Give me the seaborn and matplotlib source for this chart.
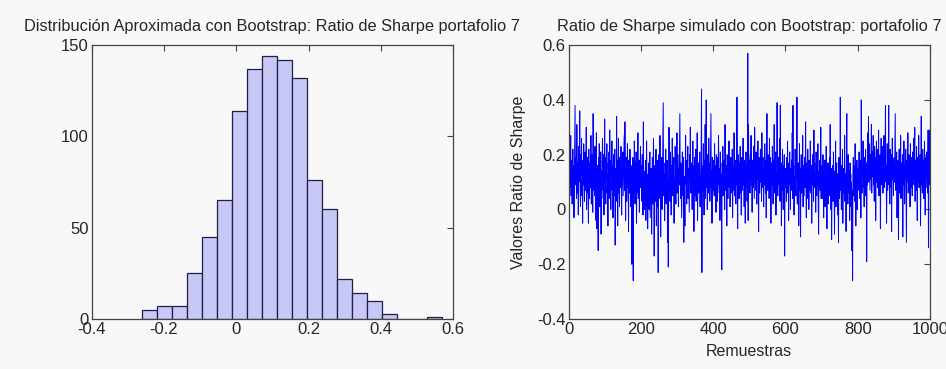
import numpy as np
import pandas as pd
import seaborn as sns
import matplotlib
matplotlib.use('Agg')
import matplotlib.pyplot as plt

# histograma (20 clases)
hist_centros = [-0.241, -0.199, -0.158, -0.116, -0.075, -0.033, 0.009, 0.050, 0.092, 0.133,
                0.175, 0.217, 0.258, 0.300, 0.341, 0.383, 0.425, 0.466, 0.508, 0.549]
hist_conteos = [5, 7, 7, 25, 45, 65, 114, 137, 144, 142,
                132, 76, 60, 22, 14, 10, 3, 0, 0, 1]

# ratio de Sharpe por remuestra, leido a ojo (bloques de 100)
bloque_0 = [0.12, 0.29, 0.08, 0.21, 0.15, 0.27, 0.05, 0.18, 0.10, 0.02,
            0.14, 0.22, 0.07, 0.16, -0.03, 0.11, 0.25, 0.38, 0.09, 0.13,
            0.19, 0.04, 0.31, 0.12, 0.06, 0.17, -0.02, 0.23, 0.10, 0.15,
            0.36, 0.08, 0.01, 0.20, 0.13, 0.26, 0.05, 0.11, -0.05, 0.18,
            0.09, 0.24, 0.14, 0.03, 0.16, 0.21, 0.07, 0.12, 0.30, 0.00,
            0.10, 0.19, 0.06, 0.15, -0.05, 0.22, 0.11, 0.04, 0.17, 0.08,
            0.13, 0.27, 0.02, 0.09, 0.20, 0.14, -0.01, 0.35, 0.07, 0.12,
            0.18, 0.05, 0.23, 0.10, 0.15, -0.04, 0.28, -0.07, 0.11, 0.16,
            0.06, -0.15, 0.19, 0.09, 0.24, 0.01, 0.13, 0.08, 0.21, -0.09,
            0.14, 0.04, 0.17, 0.26, 0.10, 0.07, 0.20, -0.02, 0.12, 0.33]
bloque_1 = [0.08, 0.15, 0.02, 0.19, 0.11, 0.24, 0.06, 0.13, -0.06, 0.17,
            0.10, 0.21, 0.04, 0.29, 0.09, 0.14, 0.00, 0.18, 0.12, 0.25,
            0.07, 0.16, -0.03, 0.11, 0.20, 0.05, 0.13, 0.22, -0.13, 0.09,
            0.15, 0.03, 0.34, 0.10, 0.18, -0.06, 0.12, 0.26, 0.06, 0.14,
            0.01, 0.19, 0.11, 0.08, 0.23, 0.13, -0.02, 0.16, 0.09, 0.21,
            0.05, 0.12, 0.17, 0.27, 0.07, 0.32, 0.10, -0.04, 0.15, 0.19,
            0.03, 0.11, 0.24, 0.08, 0.14, -0.08, 0.18, 0.12, 0.06, 0.22,
            0.10, 0.01, 0.16, 0.09, -0.20, 0.13, 0.05, 0.19, -0.26, 0.11,
            0.07, 0.25, 0.14, 0.02, 0.17, 0.09, 0.21, -0.05, 0.12, 0.06,
            0.15, 0.28, 0.04, 0.10, 0.18, -0.01, 0.13, 0.08, 0.23, 0.11]
bloque_2 = [0.09, 0.16, 0.03, 0.20, 0.11, -0.02, 0.32, 0.07, 0.14, 0.00,
            0.12, 0.05, 0.18, -0.04, 0.08, 0.25, 0.01, 0.10, -0.07, 0.13,
            0.04, 0.17, 0.00, 0.09, 0.21, -0.03, 0.06, 0.15, 0.11, -0.09,
            0.08, 0.19, 0.02, 0.13, 0.26, 0.05, -0.17, 0.10, 0.16, 0.03,
            0.12, 0.22, -0.06, 0.09, 0.18, 0.01, 0.14, -0.23, 0.07, 0.20,
            0.11, 0.04, 0.27, 0.08, -0.10, 0.15, 0.06, 0.19, 0.00, 0.12,
            0.24, 0.39, 0.05, 0.13, 0.09, -0.04, 0.17, 0.10, 0.22, 0.02,
            0.14, 0.07, 0.18, -0.12, 0.11, -0.21, 0.06, 0.30, 0.09, 0.15,
            0.03, 0.21, 0.12, -0.02, 0.16, 0.08, 0.26, 0.05, 0.13, 0.10,
            0.19, -0.05, 0.11, 0.07, 0.23, 0.14, 0.02, 0.17, 0.09, 0.28]
bloque_3 = [0.06, 0.13, 0.20, 0.01, 0.15, 0.09, 0.24, 0.35, 0.11, 0.04,
            0.17, 0.08, -0.03, 0.14, 0.21, 0.10, 0.05, 0.19, -0.12, 0.12,
            0.07, -0.06, 0.16, 0.27, 0.09, 0.13, 0.02, 0.18, 0.11, 0.23,
            0.04, 0.15, 0.08, -0.01, 0.20, 0.12, 0.30, 0.06, 0.14, 0.09,
            0.17, 0.00, 0.11, 0.25, 0.07, 0.16, -0.08, 0.13, 0.19, 0.05,
            0.10, 0.22, 0.03, 0.14, 0.08, 0.28, -0.04, 0.12, 0.17, 0.06,
            0.15, 0.09, 0.21, 0.01, 0.13, 0.05, 0.19, 0.44, -0.23, 0.10,
            0.16, 0.07, 0.24, 0.12, -0.02, 0.18, 0.09, 0.31, 0.04, 0.14,
            0.40, 0.08, 0.15, 0.00, 0.20, 0.11, 0.06, 0.26, 0.13, 0.17,
            0.03, 0.10, 0.22, 0.35, 0.08, 0.14, -0.05, 0.19, 0.12, 0.07]
bloque_4 = [0.11, 0.18, 0.05, 0.24, 0.13, 0.08, 0.16, -0.01, 0.20, 0.10,
            0.14, 0.03, 0.19, 0.09, 0.27, 0.12, 0.06, 0.15, -0.04, 0.21,
            0.08, 0.13, 0.02, -0.22, 0.17, 0.10, 0.23, 0.05, 0.14, 0.09,
            0.18, 0.00, 0.31, 0.11, 0.07, 0.16, 0.12, -0.06, 0.20, 0.13,
            0.04, 0.15, 0.10, 0.25, 0.08, 0.17, 0.01, 0.12, 0.19, 0.06,
            0.14, 0.09, 0.22, -0.03, 0.11, 0.16, 0.07, 0.28, 0.13, 0.05,
            0.18, 0.10, 0.02, 0.15, 0.09, 0.41, 0.12, -0.07, 0.20, 0.08,
            0.14, 0.04, 0.17, 0.11, 0.23, 0.06, 0.13, -0.02, 0.19, 0.10,
            0.07, 0.15, 0.26, 0.09, 0.12, 0.01, 0.18, 0.11, -0.05, 0.14,
            0.21, 0.08, 0.16, 0.03, 0.12, 0.57, -0.04, 0.31, 0.10, 0.18]
bloque_5 = [0.13, 0.06, 0.20, 0.11, 0.27, 0.09, 0.15, -0.01, 0.18, 0.12,
            0.08, 0.23, 0.14, 0.04, 0.30, 0.10, 0.17, 0.07, 0.21, 0.13,
            0.02, 0.16, 0.11, 0.25, 0.09, -0.08, 0.19, 0.12, 0.06, 0.14,
            0.22, 0.10, 0.17, 0.03, 0.28, 0.13, 0.08, 0.19, 0.11, 0.01,
            0.15, 0.09, 0.24, 0.12, 0.06, 0.18, -0.03, 0.14, 0.35, 0.10,
            0.07, 0.20, 0.13, 0.16, 0.04, 0.26, 0.11, 0.08, 0.19, -0.05,
            0.12, 0.17, 0.09, 0.23, 0.14, 0.02, 0.18, 0.10, 0.31, 0.06,
            0.15, 0.11, 0.21, -0.02, 0.13, 0.08, 0.39, 0.16, 0.05, 0.12,
            0.19, 0.09, 0.14, 0.26, 0.03, 0.38, 0.10, 0.17, -0.06, 0.12,
            0.07, 0.22, 0.13, 0.00, 0.16, 0.09, 0.20, -0.17, 0.11, 0.15]
bloque_6 = [0.08, 0.14, 0.03, 0.19, 0.10, 0.25, 0.06, 0.12, -0.04, 0.17,
            0.09, 0.21, 0.13, 0.00, 0.15, 0.07, 0.18, 0.11, 0.28, 0.04,
            0.38, 0.10, 0.16, -0.02, 0.12, 0.08, 0.22, 0.14, 0.05, 0.19,
            0.11, 0.41, 0.02, 0.13, 0.09, 0.17, -0.06, 0.10, 0.24, 0.07,
            0.15, -0.10, 0.12, 0.20, 0.06, 0.14, 0.09, 0.27, 0.01, 0.16,
            0.11, 0.05, 0.19, 0.13, 0.08, 0.32, 0.10, -0.03, 0.17, 0.12,
            0.04, 0.22, 0.09, 0.15, 0.00, 0.18, 0.11, 0.07, 0.25, 0.13,
            0.06, 0.16, -0.05, 0.12, 0.20, 0.09, 0.14, 0.03, 0.29, 0.10,
            0.17, 0.08, 0.13, -0.01, 0.21, 0.11, 0.05, 0.15, 0.09, 0.24,
            0.02, -0.09, 0.14, 0.10, 0.18, 0.07, 0.12, 0.30, 0.04, 0.16]
bloque_7 = [0.09, 0.15, 0.04, 0.20, 0.11, -0.03, 0.13, 0.07, 0.18, 0.01,
            0.12, 0.06, 0.23, 0.10, -0.07, 0.14, 0.08, 0.17, 0.02, 0.11,
            0.05, 0.19, 0.09, 0.31, 0.13, 0.00, 0.15, -0.11, 0.08, 0.12,
            0.16, 0.03, 0.21, 0.10, 0.06, -0.09, 0.14, 0.09, 0.25, 0.01,
            0.11, 0.17, 0.05, 0.13, -0.02, 0.08, -0.12, 0.19, 0.10, 0.04,
            0.14, 0.41, 0.07, 0.12, 0.00, 0.16, 0.09, 0.22, -0.05, 0.11,
            0.06, 0.15, 0.10, 0.27, 0.03, 0.13, 0.08, -0.08, 0.18, 0.35,
            0.09, 0.12, 0.02, 0.20, 0.11, 0.06, 0.14, -0.04, 0.17, 0.08,
            0.13, 0.01, 0.10, -0.15, 0.07, -0.26, 0.12, 0.19, 0.05, 0.09,
            0.16, 0.03, 0.24, 0.11, -0.06, 0.14, 0.08, 0.18, 0.00, 0.12]
bloque_8 = [0.07, 0.15, 0.10, 0.21, 0.04, 0.13, 0.09, 0.18, -0.03, 0.40,
            0.11, 0.06, 0.16, 0.12, 0.25, 0.08, 0.14, 0.01, 0.19, 0.10,
            0.13, 0.22, 0.05, 0.17, -0.19, 0.12, 0.09, 0.28, 0.15, 0.34,
            0.10, 0.18, 0.24, 0.07, 0.14, 0.20, 0.11, 0.31, 0.06, 0.16,
            0.21, 0.12, 0.27, 0.09, 0.17, 0.03, 0.23, 0.14, 0.19, -0.04,
            0.15, 0.25, 0.10, 0.18, 0.08, 0.22, 0.13, 0.29, 0.05, 0.16,
            0.11, 0.20, -0.07, 0.14, 0.26, 0.09, 0.17, 0.12, 0.23, 0.06,
            0.18, 0.13, 0.27, 0.08, 0.15, 0.21, 0.38, 0.10, 0.16, -0.05,
            0.12, 0.24, 0.07, 0.19, 0.14, 0.38, 0.09, 0.17, 0.02, 0.22,
            0.13, 0.08, 0.20, -0.08, 0.15, 0.26, 0.11, 0.18, 0.05, 0.14]
bloque_9 = [0.19, 0.10, 0.24, 0.35, 0.07, 0.16, 0.12, 0.21, -0.03, 0.14,
            0.09, 0.18, -0.11, 0.13, 0.22, 0.06, 0.15, 0.11, 0.27, 0.04,
            0.17, 0.12, 0.08, 0.20, -0.10, 0.14, 0.09, 0.25, 0.13, 0.02,
            0.16, 0.11, 0.22, 0.07, -0.12, 0.18, 0.10, 0.15, 0.28, 0.06,
            0.13, 0.20, 0.09, 0.17, 0.01, 0.24, 0.12, 0.08, 0.19, 0.14,
            0.05, 0.21, 0.11, 0.16, 0.26, 0.09, 0.14, 0.30, 0.03, 0.18,
            0.12, 0.07, 0.23, 0.15, -0.04, 0.19, 0.10, 0.14, 0.27, 0.08,
            0.16, 0.11, 0.20, -0.06, 0.13, 0.34, 0.09, 0.17, 0.06, 0.22,
            0.12, 0.18, 0.04, 0.15, 0.25, 0.10, -0.02, 0.19, 0.13, 0.08,
            0.21, 0.11, 0.16, 0.06, 0.29, -0.14, 0.12, 0.09, 0.29, 0.10]

sharpe = (bloque_0 + bloque_1 + bloque_2 + bloque_3 + bloque_4 +
          bloque_5 + bloque_6 + bloque_7 + bloque_8 + bloque_9)
serie = pd.DataFrame({'remuestra': np.arange(1, len(sharpe) + 1), 'sharpe': sharpe})

sns.set_style('white')
plt.rcParams['font.family'] = ['Liberation Sans', 'DejaVu Sans']
plt.rcParams['axes.edgecolor'] = '#444444'
plt.rcParams['axes.linewidth'] = 0.9

fondo = '#f8f8f8'
fig = plt.figure(figsize=(9.46, 3.69), dpi=100, facecolor=fondo)
ax1 = fig.add_axes([0.097, 0.1355, 0.382, 0.742])
ax2 = fig.add_axes([0.601, 0.1355, 0.382, 0.742])

# izquierda: histograma
sns.histplot(x=hist_centros, weights=hist_conteos, bins=20, binrange=(-0.262, 0.570),
             color='#c8c8f6', edgecolor='#1e1e46', linewidth=0.9, alpha=1, ax=ax1)
ax1.set_xlim(-0.4, 0.6)
ax1.set_ylim(0, 150)
ax1.set_xticks([-0.4, -0.2, 0, 0.2, 0.4, 0.6])
ax1.set_xticklabels(['-0.4', '-0.2', '0', '0.2', '0.4', '0.6'])
ax1.set_yticks([0, 50, 100, 150])
ax1.set_ylabel('')
ax1.set_title('Distribución Aproximada con Bootstrap: Ratio de Sharpe portafolio 7',
              fontsize=11.8, pad=10)

# derecha: serie de remuestras
sns.lineplot(data=serie, x='remuestra', y='sharpe', color='#0000ff', linewidth=0.7, ax=ax2)
ax2.set_xlim(0, 1000)
ax2.set_ylim(-0.4, 0.6)
ax2.set_xticks([0, 200, 400, 600, 800, 1000])
ax2.set_yticks([-0.4, -0.2, 0, 0.2, 0.4, 0.6])
ax2.set_yticklabels(['-0.4', '-0.2', '0', '0.2', '0.4', '0.6'])
ax2.set_xlabel('Remuestras', fontsize=11.5, labelpad=5)
ax2.set_ylabel('Valores Ratio de Sharpe', fontsize=11.5, labelpad=8)
ax2.set_title('Ratio de Sharpe simulado con Bootstrap: portafolio 7', fontsize=11.8, pad=10)

for ax in (ax1, ax2):
    ax.set_facecolor(fondo)
    ax.tick_params(direction='in', top=True, right=True, length=4, width=0.8,
                   color='#444444', labelsize=12, pad=2)
    for s in ax.spines.values():
        s.set_visible(True)

fig.savefig('out.png', dpi=100, facecolor=fondo)
